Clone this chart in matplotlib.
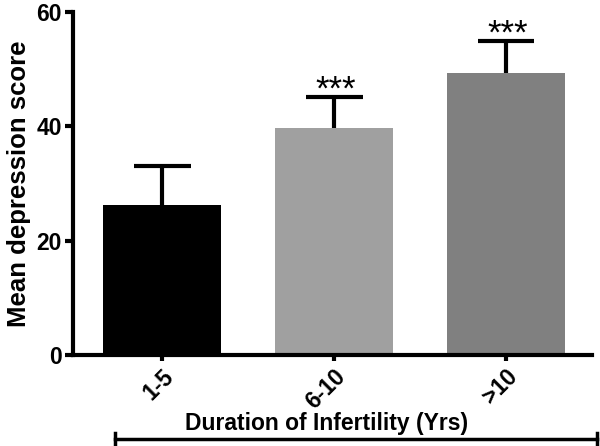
import matplotlib.pyplot as plt
from matplotlib.lines import Line2D

plt.rcParams['font.family'] = ['Liberation Sans', 'DejaVu Sans']

# data
groups = ['1-5', '6-10', '>10']
means = [26.2, 39.7, 49.3]
sem_upper = [6.8, 5.4, 5.6]
stars = ['', '***', '***']
colors = ['#000000', '#a0a0a0', '#808080']

fig = plt.figure(figsize=(6, 4.46), dpi=100)
ax = fig.add_axes([0.1217, 0.204, 0.865, 0.769])

x = list(range(len(groups)))
tops = [m + e for m, e in zip(means, sem_upper)]
ax.bar(x, means, width=0.686, color=colors, zorder=2)
# upper-only error bars
ax.vlines(x, means, tops, color='black', lw=3, zorder=1)
ax.hlines(tops, [i - 0.165 for i in x], [i + 0.165 for i in x], color='black', lw=3, zorder=1)

for i, s in enumerate(stars):
    if s:
        ax.annotate(s, (i, tops[i]), xytext=(1, -7),
                    textcoords='offset points', ha='center', va='bottom',
                    fontsize=25)

ax.set_xlim(-0.52, 2.5)
ax.set_ylim(0, 60)
ax.set_yticks([0, 20, 40, 60])
ax.set_xticks(x)
ax.set_xticklabels(groups, rotation=45, ha='right', rotation_mode='anchor',
                   fontsize=16.5, fontweight='bold')
for lbl in ax.get_yticklabels():
    lbl.set_fontsize(16.5)
    lbl.set_fontweight('bold')
ax.tick_params(axis='y', width=3, length=6, pad=2)
ax.tick_params(axis='x', width=3, length=4, pad=3)

for side in ['top', 'right']:
    ax.spines[side].set_visible(False)
for side in ['left', 'bottom']:
    ax.spines[side].set_linewidth(3)

ax.set_ylabel('Mean depression score', fontsize=18.5, fontweight='bold', labelpad=4)

# grouping bracket below the axis
fig.text(327 / 600, 1 - 430 / 446, 'Duration of Infertility (Yrs)', ha='center',
         va='baseline', fontsize=16.5, fontweight='bold')
yb = 1 - 439 / 446
fig.add_artist(Line2D([115 / 600, 597 / 600], [yb, yb], color='black', lw=2.5))
for xe in [115 / 600, 597 / 600]:
    fig.add_artist(Line2D([xe, xe], [yb - 0.014, yb + 0.014], color='black', lw=2.5))

fig.savefig('out.png', dpi=100)
